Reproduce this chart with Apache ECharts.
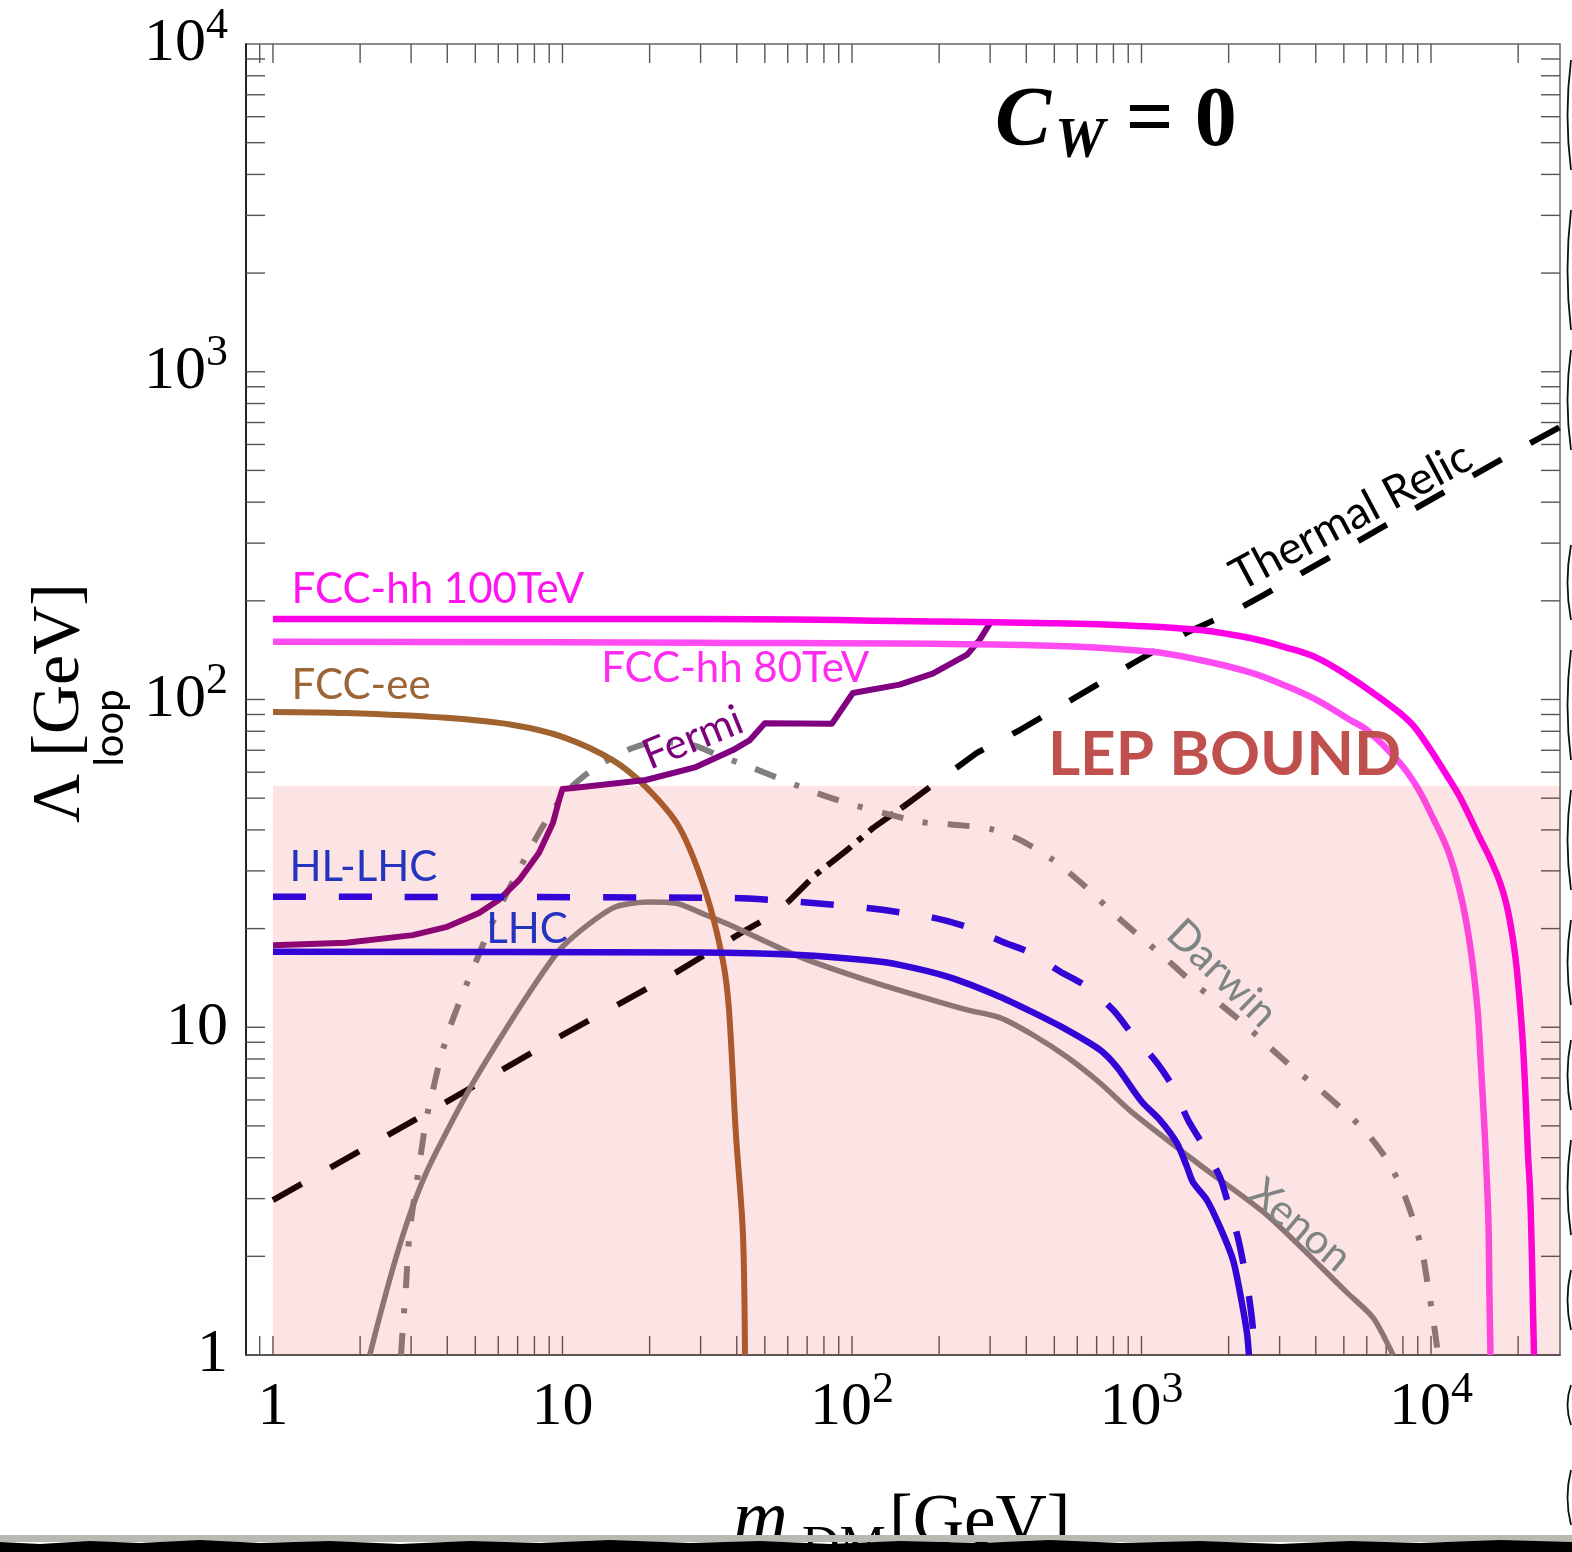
<!DOCTYPE html>
<html><head><meta charset="utf-8">
<script src="https://cdn.jsdelivr.net/npm/echarts@6/dist/echarts.min.js"></script>
<style>html,body{margin:0;padding:0;background:#fff}#chart{width:1572px;height:1552px}</style>
</head><body><div id="chart"></div>
<script>
// ---------- axis ranges ----------
const X_MIN = 0.807, X_MAX = 27900, Y_MIN = 1, Y_MAX = 10000;
const lepBound = 54.5;

// ---------- tick labels ----------
const xLabelValues = [1, 10, 100, 1000, 10000];
const xLabelTexts = [['1',''],['10',''],['10','2'],['10','3'],['10','4']];
const yLabelValues = [1, 10, 100, 1000, 10000];
const yLabelTexts = [['1',''],['10',''],['10','2'],['10','3'],['10','4']];

// ---------- curves: [m_DM (GeV), Lambda_loop (GeV)] ----------
const fccHh100 = [[1,176],[30,176],[200,173],[483,171],[935,168],[1592,163],[2371,154],[3082,145],[4037,134],[5253,117],[6010,108],[7816,90.9],[8938,80.7],[11610,56.8],[12590,50.4],[14750,37.8],[15980,32.8],[17300,27.7],[18290,23.4],[19200,18.5],[19810,14.9],[20620,9.81],[21120,6.71],[21630,4.08],[21980,3.19],[22330,1.94],[22510,1.37],[22690,1]];
const fccHh80 = [[1,150],[30,149],[483,146],[1070,140],[1592,132],[2371,121],[3082,111],[4037,99.6],[5253,86.6],[6010,80.7],[7816,64],[8944,54.1],[10160,43.5],[11360,35.2],[12200,28.9],[12900,23.6],[13530,18.7],[14080,14.4],[14530,10.9],[14880,7.62],[15240,5.25],[15550,3.62],[15800,2.48],[15920,1.51],[16050,1]];
const fccEe = [[1,91.6],[1.79,90.9],[3.96,87.9],[6.75,83.6],[10,76.9],[14.9,65.3],[19.4,54.1],[25.3,40.8],[31.3,25.7],[35.8,16.0],[37.6,11.3],[39.7,4.76],[42,2.36],[42.7,1]];
const fermi = [[1,17.8],[1.79,18.1],[3.04,19.1],[3.96,20.2],[5.15,22.3],[6.04,24.5],[7.08,28.1],[8.29,34.0],[9.27,42.0],[9.73,49.3],[10,53.3],[10.9,53.7],[19.4,56.8],[28.9,62.2],[38.8,70.1],[44.4,75.2],[50,84.6],[85.3,84.4],[100.7,104.7],[146,111],[190,120],[250,137],[276,152],[300,171]];
const hlLhc = [[1,25],[38.8,24.8],[66.1,24.1],[113,23.1],[186,21.7],[256,20.1],[332,18.2],[412,16.9],[523,14.8],[648,13.3],[797,11.3],[935,9.46],[1132,7.78],[1285,6.57],[1448,5.21],[1631,4.37],[1866,3.49],[1989,2.91],[2155,2.27],[2313,1.66],[2409,1.28],[2467,1]];
const lhc = [[1,17],[29.9,16.9],[66.1,16.6],[113,16.0],[146,15.5],[218,14.2],[324,12.4],[422,11.1],[553,9.82],[719,8.53],[823,7.56],[935,6.44],[1012,5.87],[1159,5.21],[1326,4.43],[1436,3.75],[1505,3.37],[1683,2.97],[1866,2.46],[2071,1.95],[2189,1.55],[2313,1.17],[2350,1]];
const xenon = [[2.16,1],[2.32,1.28],[2.60,1.85],[2.95,2.64],[3.38,3.59],[3.96,4.76],[4.91,6.76],[6.04,9.14],[7.66,12.7],[10,17.6],[14.9,23.1],[19.9,24.1],[24.7,23.9],[31.3,22.0],[39.4,20.2],[66.1,16.4],[113,13.9],[190,12.1],[250,11.3],[324,10.7],[422,9.47],[553,8.11],[719,6.76],[935,5.47],[1592,3.80],[2716,2.67],[5129,1.55],[6305,1.30],[7393,1]];
const darwin = [[2.77,1],[2.81,1.22],[2.88,1.61],[2.93,2.09],[3.00,2.58],[3.12,3.26],[3.24,4.08],[3.38,5.22],[3.57,6.44],[3.80,8.12],[4.12,10.2],[4.53,12.7],[5.02,15.8],[5.62,20.1],[6.33,25.0],[7.13,30.6],[8.04,37.3],[9.05,44.5],[10.3,52.2],[12.0,58.9],[14.0,64.5],[17.1,70.6],[21.0,74.2],[28.2,72.6],[34.2,67.8],[45.5,61.8],[57.8,56.8],[75.7,51.8],[96.1,48.3],[128,45.1],[172,42.3],[231,41.4],[300,40.3],[380,37.3],[495,32.4],[648,26.6],[797,22.3],[988,18.9],[1205,16.3],[1472,13.9],[1795,12.1],[2243,10.3],[2716,8.83],[3337,7.51],[4070,6.53],[4966,5.59],[6010,4.76],[7047,3.94],[7940,3.21],[8665,2.60],[9306,2.09],[9767,1.62],[10160,1.30],[10490,1.06],[10570,1]];
const thermalRelic = [[1,2.97],[3.96,5.91],[9.73,9.34],[24.7,14.7],[43,19.8],[50.8,21.5],[60.1,24.1],[74.5,29.1],[96.1,34.7],[118,40.5],[150,47.0],[190,54.8],[270,68.7],[380,80.7],[598,102],[935,129],[1436,160],[2138,188],[2630,208],[20790,589],[27900,678]];

// ---------- layout of annotations (positions in data coordinates) ----------
const annotations = [
  {text:'FCC-hh 100TeV', at:[1.16,216], color:'#ff14f0', size:42, align:'left', rot:0},
  {text:'FCC-hh 80TeV', at:[13.6,124], color:'#ff2cf0', size:42, align:'left', rot:0},
  {text:'FCC-ee', at:[1.16,110], color:'#9b6535', size:42, align:'left', rot:0},
  {text:'HL-LHC', at:[1.14,30.8], color:'#2534c0', size:42, align:'left', rot:0},
  {text:'LHC', at:[5.45,19.9], color:'#2534c0', size:42, align:'left', rot:0},
  {text:'Fermi', at:[28.2,76.3], color:'#7d007d', size:42, align:'center', rot:22},
  {text:'Darwin', at:[1897,14.6], color:'#7f8484', size:42, align:'center', rot:-44},
  {text:'Xenon', at:[3530,2.49], color:'#7f8484', size:42, align:'center', rot:-40},
  {text:'Thermal Relic', at:[5300,362], color:'#000000', size:45, align:'center', rot:28},
  {text:'LEP BOUND', at:[475,67.7], color:'#c0504d', size:62, weight:'bold', align:'left', rot:0},
  {text:'{c|C}{w|W}{e| = 0}', at:[312,5741], color:'#000', size:84, align:'left', rot:0, rich:{
    c:{fontFamily:'Liberation Serif', fontStyle:'italic', fontWeight:'bold', fontSize:84, lineHeight:96},
    w:{fontFamily:'Liberation Serif', fontStyle:'italic', fontWeight:'bold', fontSize:56, lineHeight:40, verticalAlign:'bottom', padding:[0,0,0,4]},
    e:{fontFamily:'Liberation Serif', fontWeight:'bold', fontSize:84, lineHeight:96}
  }}
];

// ---------- tick positions ----------
const minorMult = [1,2,3,4,5,6,7,8,9];
function tickValues(lo, hi) {
  const out = [];
  for (let d = -1; d <= 5; d++) for (const k of minorMult) {
    const v = k * Math.pow(10, d);
    if (v > lo * 1.0001 && v < hi * 0.9999) out.push(v);
  }
  return out;
}
const xTicks = tickValues(X_MIN, X_MAX);
const yTicks = tickValues(Y_MIN, Y_MAX);

function labelFor(values, texts) {
  return function (v) {
    for (let i = 0; i < values.length; i++) {
      if (Math.abs(v - values[i]) / values[i] < 1e-6) {
        const t = texts[i];
        return '{b|' + t[0] + '}' + (t[1] ? '{s|' + t[1] + '}' : '');
      }
    }
    return '';
  };
}
const labelRich = {
  b: {fontFamily:'Liberation Serif', fontSize:62, lineHeight:80, color:'#000'},
  s: {fontFamily:'Liberation Serif', fontSize:44, lineHeight:44, verticalAlign:'top', color:'#000'}
};

const chart = echarts.init(document.getElementById('chart'), null, {renderer:'canvas'});

function lineSeries(name, data, color, width, type, smooth, z) {
  return {
    name, type:'line', data, showSymbol:false, symbol:'none', smooth: smooth || false,
    z: z || 2, silent:true, animation:false,
    lineStyle:{color, width, type: type || 'solid', cap:'butt', join:'round'}
  };
}

const thermalA = thermalRelic.filter(p => p[0] <= 60.1);
const thermalB = thermalRelic.filter(p => p[0] >= 60.1 && p[0] <= 150);
const thermalC = thermalRelic.filter(p => p[0] >= 150);

const option = {
  animation:false,
  backgroundColor:'#ffffff',
  grid:{left:246, right:12, top:44, bottom:197, show:true, borderColor:'#666', borderWidth:1.5, backgroundColor:'transparent'},
  xAxis:{type:'log', logBase:10, min:X_MIN, max:X_MAX,
    axisLine:{show:true, lineStyle:{color:'#444', width:1.5}},
    axisTick:{show:false}, splitLine:{show:false}, minorTick:{show:false},
    axisLabel:{margin:13, formatter:labelFor(xLabelValues, xLabelTexts), rich:labelRich, showMinLabel:true, showMaxLabel:true}
  },
  yAxis:{type:'log', logBase:10, min:Y_MIN, max:Y_MAX,
    axisLine:{show:true, lineStyle:{color:'#000', width:1.5}},
    axisTick:{show:false}, splitLine:{show:false},
    axisLabel:{margin:18, formatter:labelFor(yLabelValues, yLabelTexts), rich:labelRich}
  },
  series:[
    // ticks (all four sides, inward)
    {type:'custom', coordinateSystem:'cartesian2d', z:1, silent:true, clip:false,
      data: xTicks.map(v => [v, Y_MIN, 0]).concat(yTicks.map(v => [X_MIN, v, 1])),
      encode:{x:0, y:1},
      renderItem:(params, api) => {
        const v0 = api.value(0), v1 = api.value(1), kind = api.value(2);
        const st = {stroke:'#555', lineWidth:1.4};
        const L = 19;
        if (kind === 0) {
          const pb = api.coord([v0, Y_MIN]), pt = api.coord([v0, Y_MAX]);
          return {type:'group', children:[
            {type:'line', shape:{x1:pb[0], y1:pb[1], x2:pb[0], y2:pb[1]-L}, style:st},
            {type:'line', shape:{x1:pt[0], y1:pt[1], x2:pt[0], y2:pt[1]+L}, style:st}
          ]};
        } else {
          const pl = api.coord([X_MIN, v1]), pr = api.coord([X_MAX, v1]);
          return {type:'group', children:[
            {type:'line', shape:{x1:pl[0], y1:pl[1], x2:pl[0]+L, y2:pl[1]}, style:st},
            {type:'line', shape:{x1:pr[0], y1:pr[1], x2:pr[0]-L, y2:pr[1]}, style:st}
          ]};
        }
      }
    },
    lineSeries('Thermal Relic', thermalA, '#000000', 6, [33,33], false),
    lineSeries('Thermal Relic', thermalB, '#000000', 6, [30,9,6,9], false),
    lineSeries('Thermal Relic', thermalC, '#000000', 6, [33,33], false),
    lineSeries('Xenon', xenon, '#808080', 5.5, 'solid', 0.25),
    lineSeries('Darwin', darwin, '#808080', 6, [22,20,5,20], 0.25),
    lineSeries('FCC-ee', fccEe, '#a0622e', 6, 'solid', 0.3),
    lineSeries('Fermi', fermi, '#800080', 6, 'solid', false),
    lineSeries('LHC', lhc, '#1a00f0', 6.5, 'solid', 0.25),
    lineSeries('HL-LHC', hlLhc, '#1a00f0', 6.5, [33,33], 0.25),
    lineSeries('FCC-hh 80TeV', fccHh80, '#ff4cf2', 6.5, 'solid', 0.4),
    lineSeries('FCC-hh 100TeV', fccHh100, '#ff00e6', 6.5, 'solid', 0.4),
    // LEP bound band (translucent overlay)
    {type:'custom', coordinateSystem:'cartesian2d', z:5, silent:true,
      data:[[1, Y_MIN, X_MAX, lepBound]], encode:{x:[0,2], y:[1,3]},
      renderItem:(params, api) => {
        const p1 = api.coord([api.value(0), api.value(1)]);
        const p2 = api.coord([api.value(2), api.value(3)]);
        return {type:'rect', shape:{x:p1[0], y:p2[1], width:p2[0]-p1[0], height:p1[1]-p2[1]},
          style:{fill:'rgba(239,41,41,0.126)'}};
      }
    },
    // annotations
    {type:'custom', coordinateSystem:'cartesian2d', z:10, silent:true, clip:false,
      data: annotations.map((a, i) => [a.at[0], a.at[1], i]), encode:{x:0, y:1},
      renderItem:(params, api) => {
        const a = annotations[api.value(2)];
        const p = api.coord([api.value(0), api.value(1)]);
        const style = {text:a.text, fill:a.color, align:a.align, verticalAlign:'middle',
          font:(a.weight || 'normal') + ' ' + a.size + 'px Lato'};
        if (a.rich) style.rich = a.rich;
        return {type:'text', x:p[0], y:p[1], rotation:a.rot * Math.PI / 180, style};
      }
    }
  ],
  graphic:[
    {type:'text', x:60, y:703, rotation:Math.PI/2, z:20,
      style:{text:'Λ [GeV]', font:'68px "Liberation Serif"', fill:'#000', align:'center', verticalAlign:'middle'}},
    {type:'text', x:110, y:728, rotation:Math.PI/2, z:20,
      style:{text:'loop', font:'40px Lato', fill:'#000', align:'center', verticalAlign:'middle'}},
    {type:'text', x:733, y:1522, z:20,
      style:{text:'m', font:'italic 76px "Liberation Serif"', fill:'#000', align:'left', verticalAlign:'middle'}},
    {type:'text', x:802, y:1548, z:20,
      style:{text:'DM', font:'52px "Liberation Serif"', fill:'#000', align:'left', verticalAlign:'middle'}},
    {type:'text', x:889, y:1524, z:20,
      style:{text:'[GeV]', font:'71px "Liberation Serif"', fill:'#000', align:'left', verticalAlign:'middle'}},
    {type:'rect', z:30, shape:{x:0, y:1535, width:1572, height:7}, style:{fill:'#b9b9b2'}},
    {type:'polygon', z:31, shape:{points:[[0,1542],[40,1544],[90,1541],[140,1543],[200,1540],[260,1543],[330,1541],[400,1544],[470,1541],[540,1543],[610,1540],[690,1543],[760,1541],[830,1544],[900,1541],[980,1543],[1050,1540],[1120,1543],[1200,1541],[1280,1544],[1350,1541],[1420,1543],[1500,1540],[1572,1542],[1572,1552],[0,1552]]}, style:{fill:'#000'}},
    {type:'group', z:30, children:[[60,170],[210,330],[350,450],[545,620],[650,760],[790,890],[920,1005],[1040,1110],[1140,1235],[1270,1330],[1385,1425],[1470,1525]].map(r => ({
      type:'bezierCurve', shape:{x1:1571, y1:r[0], cpx1:1564, cpy1:(r[0]+r[1])/2, x2:1571, y2:r[1]},
      style:{stroke:'#111', lineWidth:1.8, fill:null}}))}
  ]
};
chart.setOption(option);
</script>
</body></html>
